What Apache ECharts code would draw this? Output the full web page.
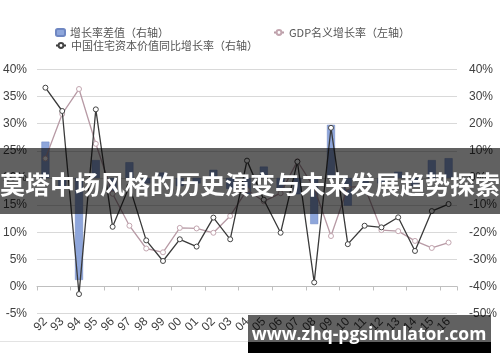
<!DOCTYPE html>
<html>
<head>
<meta charset="utf-8">
<script src="https://cdn.jsdelivr.net/npm/echarts@6/dist/echarts.min.js"></script>
<style>
html,body{margin:0;padding:0;background:#fff;}
#chart{width:500px;height:362px;}
</style>
</head>
<body>
<div id="chart"></div>
<script>
var categories = ['92','93','94','95','96','97','98','99','00','01','02','03','04','05','06','07','08','09','10','11','12','13','14','15','16'];
var gdpGrowth = [23.6,31.8,36.4,26.3,17.1,11.2,7.0,6.3,10.8,10.7,9.9,13.0,17.8,15.7,17.2,23.1,18.2,9.3,18.3,18.4,10.4,10.2,8.4,7.1,8.1];
var housingGrowth = [33.3,24.7,-42.8,25.3,-18.0,-3.0,-23.0,-30.6,-22.6,-25.3,-14.6,-22.6,6.4,-8.0,-20.2,6.0,-38.5,18.5,-24.4,-17.6,-18.2,-14.5,-26.9,-12.2,-9.6];
var growthDiff = [13.4,-3,-37.6,6.6,-5,5.8,-2,2,-3,-2,3,-4,-6,4.2,-4,-6,-17,19.6,-10.2,-3,-2,2.3,-3,6.6,7.3];
var leftTicks = {min:-5, max:40, interval:5};
var rightTicks = {min:-50, max:40, interval:10};
var names = ['增长率差值（右轴）','GDP名义增长率（左轴）','中国住宅资本价值同比增长率（右轴）'];
var bannerText = '莫塔中场风格的历史演变与未来发展趋势探索';
var watermarkText = 'www.zhq-pgsimulator.com';

var chart = echarts.init(document.getElementById('chart'), null, {renderer:'canvas'});
var legendText = {fontSize:11, color:'#555', fontFamily:'Noto Sans CJK SC'};
var option = {
  animation:false,
  backgroundColor:'#fff',
  grid:{left:37, right:40, top:69.5, bottom:48.4, containLabel:false},
  legend:[
    {data:[names[0]], left:55, top:27, itemWidth:9, itemHeight:7, itemGap:4, textStyle:legendText, padding:0},
    {data:[names[1]], left:273, top:27, itemWidth:10, itemHeight:6, textStyle:legendText, padding:0},
    {data:[names[2]], left:55, top:40, itemWidth:10, itemHeight:6, textStyle:legendText, padding:0}
  ],
  xAxis:[
    {type:'category', data:categories, boundaryGap:true, position:'bottom',
     axisLine:{show:false, onZero:false}, axisTick:{show:false}, splitLine:{show:false},
     axisLabel:{rotate:45, margin:6, fontSize:12, color:'#404040', fontFamily:'Liberation Sans', interval:0}},
    {type:'category', data:categories, boundaryGap:true, position:'top',
     axisLine:{show:true, onZero:true, onZeroAxisIndex:0, lineStyle:{color:'#bfbfbf', width:1}},
     axisTick:{show:true, inside:true, length:4, lineStyle:{color:'#bfbfbf'}},
     axisLabel:{show:false}, splitLine:{show:false}}
  ],
  yAxis:[
    {type:'value', position:'left', min:leftTicks.min, max:leftTicks.max, interval:leftTicks.interval,
     axisLine:{show:false}, axisTick:{show:false},
     axisLabel:{formatter:'{value}%', fontSize:12, color:'#404040', margin:10, fontFamily:'Liberation Sans'},
     splitLine:{show:true, lineStyle:{color:'#d9d9d9', width:1}}},
    {type:'value', position:'right', min:rightTicks.min, max:rightTicks.max, interval:rightTicks.interval,
     axisLine:{show:false}, axisTick:{show:false},
     axisLabel:{formatter:'{value}%', fontSize:12, color:'#404040', margin:12, fontFamily:'Liberation Sans'},
     splitLine:{show:false}}
  ],
  series:[
    {name:names[0], type:'bar', xAxisIndex:0, yAxisIndex:1, data:growthDiff, barWidth:8,
     itemStyle:{color:'#8ea6db', borderColor:'#6f87c2', borderWidth:0.5}, z:2},
    {name:names[1], type:'line', xAxisIndex:0, yAxisIndex:0, data:gdpGrowth,
     symbol:'circle', symbolSize:5, lineStyle:{color:'#b79aa5', width:1.3},
     itemStyle:{color:'#fff', borderColor:'#c3a6b0', borderWidth:1}, z:3},
    {name:names[2], type:'line', xAxisIndex:0, yAxisIndex:1, data:housingGrowth,
     symbol:'circle', symbolSize:5, lineStyle:{color:'#3a3a3a', width:1.3},
     itemStyle:{color:'#fff', borderColor:'#444', borderWidth:1}, z:4}
  ],
  graphic:[
    {type:'rect', z:100, shape:{x:0, y:148, width:500, height:66}, style:{fill:'rgba(0,0,0,0.62)'}},
    {type:'text', z:101, x:250, y:184, style:{text:bannerText, fill:'#fff', font:'bold 25px "Noto Sans CJK SC"', textAlign:'center', textVerticalAlign:'middle'}},
    {type:'line', z:90, shape:{x1:0, y1:341.5, x2:248, y2:341.5}, style:{stroke:'#e3e3e3', lineWidth:1}},
    {type:'rect', z:100, shape:{x:248, y:315, width:243, height:27}, style:{fill:'rgba(0,0,0,0.62)'}},
    {type:'rect', z:100, shape:{x:248, y:342, width:243, height:11}, style:{fill:'#000'}},
    {type:'text', z:101, x:369, y:335, style:{text:watermarkText, fill:'#fff', font:'bold 17.5px "Open Sans"', textAlign:'center', textVerticalAlign:'middle'}}
  ]
};
chart.setOption(option);
</script>
</body>
</html>
